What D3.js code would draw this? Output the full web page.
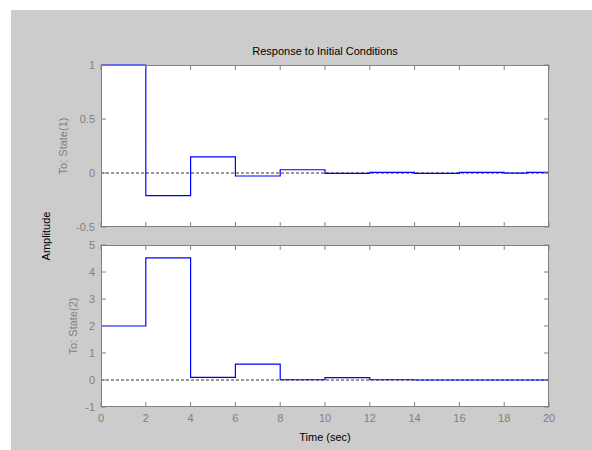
<!DOCTYPE html>
<html><head><meta charset="utf-8">
<script src="https://cdn.jsdelivr.net/npm/d3@7"></script>
<style>body{margin:0;background:#fff}svg text{font-family:"Liberation Sans",Arial,sans-serif}</style>
</head><body><svg id="c" width="592" height="450"></svg>
<script>
const times = [0, 2, 4, 6, 8, 10, 12, 14, 16, 18, 19, 20];
const state1 = [1, -0.21, 0.15, -0.028, 0.03, -0.003, 0.006, -0.003, 0.006, -0.002, 0.005];
const state2 = [2, 4.52, 0.1, 0.59, 0.01, 0.085, 0.01, 0.0, 0.0, 0.0, 0.0];
const xTicks = [0, 2, 4, 6, 8, 10, 12, 14, 16, 18, 20];
const yTicks1 = [-0.5, 0, 0.5, 1];
const yTicks2 = [-1, 0, 1, 2, 3, 4, 5];
const title = "Response to Initial Conditions";
const xLabel = "Time (sec)";
const yLabel = "Amplitude";
const panelLabels = ["To: State(1)", "To: State(2)"];

const svg = d3.select("#c");
svg.append("rect").attr("x", 11).attr("y", 10).attr("width", 581).attr("height", 440).attr("fill", "#cccccc");

const L = 101, R = 549;
const x = d3.scaleLinear().domain([0, 20]).range([L, R]);
const panels = [
  {vals: state1, dom: [-0.5, 1], top: 65, bot: 227, ticks: yTicks1, lab: panelLabels[0], labX: 63, fmt: d => d === 0 ? "0" : String(d)},
  {vals: state2, dom: [-1, 5], top: 245, bot: 407, ticks: yTicks2, lab: panelLabels[1], labX: 73, fmt: d => String(d)}
];
const axisCol = "#808080";
const tl = 5;
panels.forEach((p, i) => {
  const y = d3.scaleLinear().domain(p.dom).range([p.bot, p.top]);
  const g = svg.append("g");
  g.append("rect").attr("x", L).attr("y", p.top).attr("width", R - L).attr("height", p.bot - p.top).attr("fill", "#fff");
  // zero dashed line
  g.append("line").attr("x1", L).attr("x2", R).attr("y1", y(0)).attr("y2", y(0))
    .attr("stroke", "#333").attr("stroke-dasharray", "3,2").attr("stroke-width", 1);
  // stairs
  const pts = [];
  p.vals.forEach((v, k) => { pts.push([times[k], v]); pts.push([times[k + 1], v]); });
  g.append("path").attr("d", d3.line().x(d => x(d[0])).y(d => y(d[1]))(pts))
    .attr("fill", "none").attr("stroke", "#0000ff").attr("stroke-width", 1.2);
  // ticks (inward on all sides)
  xTicks.forEach(t => {
    g.append("line").attr("x1", x(t)).attr("x2", x(t)).attr("y1", p.bot).attr("y2", p.bot - tl).attr("stroke", axisCol);
    g.append("line").attr("x1", x(t)).attr("x2", x(t)).attr("y1", p.top).attr("y2", p.top + tl).attr("stroke", axisCol);
  });
  p.ticks.forEach(t => {
    g.append("line").attr("x1", L).attr("x2", L + tl).attr("y1", y(t)).attr("y2", y(t)).attr("stroke", axisCol);
    g.append("line").attr("x1", R).attr("x2", R - tl).attr("y1", y(t)).attr("y2", y(t)).attr("stroke", axisCol);
    g.append("text").attr("x", L - 6).attr("y", y(t)).attr("dy", "0.35em").attr("text-anchor", "end")
      .attr("font-size", 11).attr("fill", axisCol).text(p.fmt(t));
  });
  g.append("rect").attr("x", L + 0.5).attr("y", p.top + 0.5).attr("width", R - L - 1).attr("height", p.bot - p.top - 1)
    .attr("fill", "none").attr("stroke", axisCol);
  g.append("text").attr("transform", `translate(${p.labX},${(p.top + p.bot) / 2}) rotate(-90)`)
    .attr("text-anchor", "middle").attr("dy", "0.35em").attr("font-size", 11).attr("fill", axisCol).text(p.lab);
});
// x tick labels under bottom panel
xTicks.forEach(t => {
  svg.append("text").attr("x", x(t)).attr("y", 422).attr("text-anchor", "middle").attr("font-size", 11)
    .attr("fill", axisCol).text(t);
});
svg.append("text").attr("x", (L + R) / 2).attr("y", 441).attr("text-anchor", "middle").attr("font-size", 11).attr("fill", "#000").text(xLabel);
svg.append("text").attr("x", (L + R) / 2).attr("y", 55).attr("text-anchor", "middle").attr("font-size", 11).attr("fill", "#000").text(title);
svg.append("text").attr("transform", `translate(46,236) rotate(-90)`).attr("text-anchor", "middle").attr("dy", "0.35em")
  .attr("font-size", 11).attr("fill", "#000").text(yLabel);
</script></body></html>
